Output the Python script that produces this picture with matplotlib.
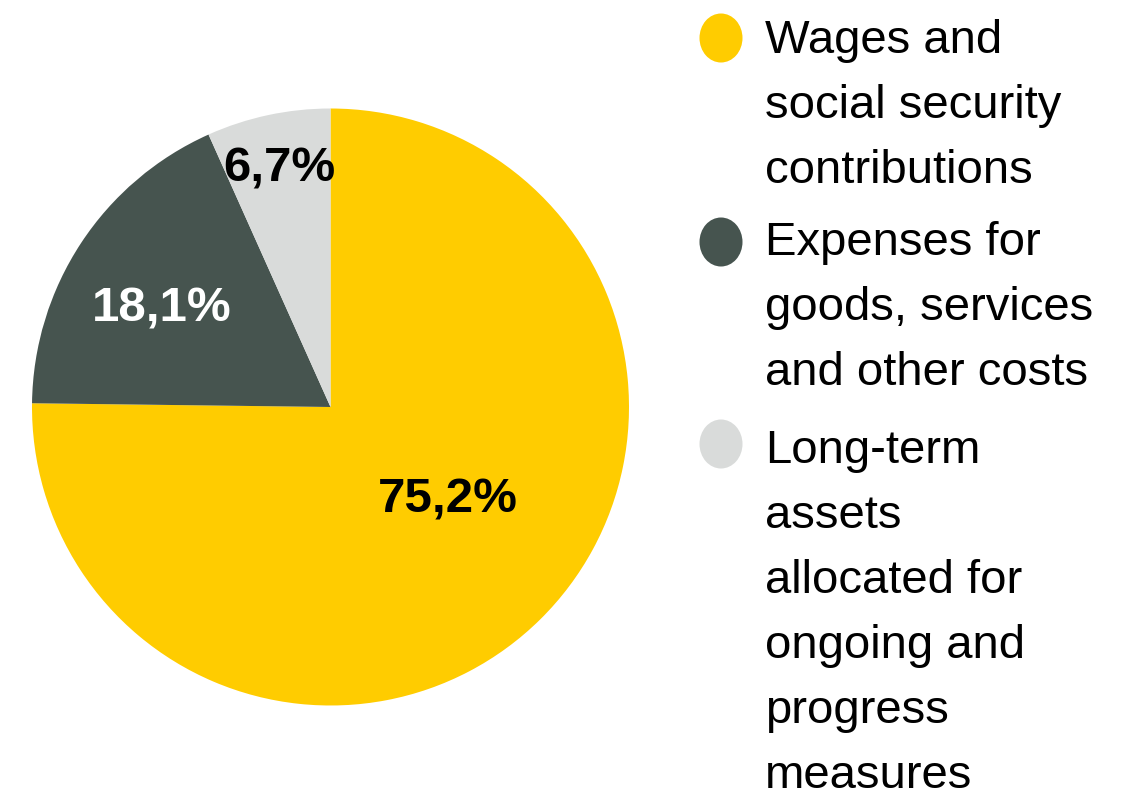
import matplotlib.pyplot as plt
from matplotlib.patches import Ellipse

plt.rcParams['font.family'] = ['Liberation Sans', 'DejaVu Sans']

# data
shares = [75.2, 18.1, 6.7]
share_labels = ['75,2%', '18,1%', '6,7%']
legend_labels = [
    ['Wages and', 'social security', 'contributions'],
    ['Expenses for', 'goods, services', 'and other costs'],
    ['Long-term', 'assets', 'allocated for', 'ongoing and', 'progress', 'measures'],
]
colors = ['#FFCC00', '#46544F', '#D9DBDA']
label_colors = ['black', 'white', 'black']

# layout (pixels / pie units)
W, H = 1138, 795
label_pos = [(0.394, -0.352), (-0.564, 0.285), (-0.173, 0.754)]
legend_first_baseline = [53, 255, 463]
legend_marker_y = [38, 242, 444]
line_pitch = 65

fig = plt.figure(figsize=(W / 100, H / 100), dpi=100)

# pie
cx, cy, r = 330.5, 407, 298.5
ax = fig.add_axes([(cx - r) / W, (H - cy - r) / H, 2 * r / W, 2 * r / H])
ax.pie(shares, colors=colors, startangle=90, counterclock=False,
       wedgeprops=dict(linewidth=0))
ax.set_xlim(-1, 1)
ax.set_ylim(-1, 1)
ax.set_aspect('auto')
ax.axis('off')
for (x, y), txt, c in zip(label_pos, share_labels, label_colors):
    ax.text(x, y, txt, ha='center', va='baseline', fontsize=35.5,
            fontweight='bold', color=c)

# legend drawn in pixel coordinates
lax = fig.add_axes([0, 0, 1, 1], zorder=-1)
lax.set_xlim(0, W)
lax.set_ylim(H, 0)
lax.axis('off')
for lines, col, base, my in zip(legend_labels, colors, legend_first_baseline, legend_marker_y):
    lax.add_patch(Ellipse((721, my), 43, 49, color=col, linewidth=0))
    for i, line in enumerate(lines):
        lax.text(765, base + i * line_pitch, line, ha='left', va='baseline',
                 fontsize=34, color='black')

plt.savefig('out.png', dpi=100)
